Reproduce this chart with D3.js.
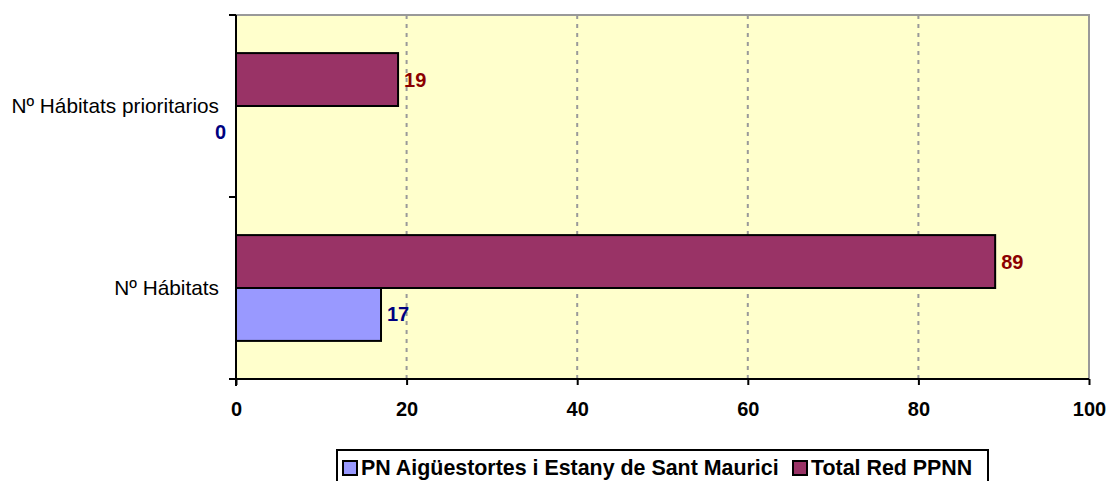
<!DOCTYPE html>
<html>
<head>
<meta charset="utf-8">
<script src="https://cdn.jsdelivr.net/npm/d3@7"></script>
<style>
  body { margin: 0; background: #fff; }
  svg { display: block; font-family: "Liberation Sans", Arial, sans-serif; }
</style>
</head>
<body>
<div id="chart"></div>
<script>
var categories = ["Nº Hábitats prioritarios", "Nº Hábitats"];
var seriesNames = ["Total Red PPNN", "PN Aigüestortes i Estany de Sant Maurici"];
var totalRed = [19, 89];
var pnAigues = [0, 17];
var xTicks = [0, 20, 40, 60, 80, 100];

var colors = {"Total Red PPNN": "#993366", "PN Aigüestortes i Estany de Sant Maurici": "#9999FF"};
var labelColors = {"Total Red PPNN": "#8B0000", "PN Aigüestortes i Estany de Sant Maurici": "#000080"};

var width = 1110, height = 481;
var plot = {left: 236, right: 1089, top: 15, bottom: 379};

var svg = d3.select("#chart").append("svg")
    .attr("width", width)
    .attr("height", height);

var x = d3.scaleLinear()
    .domain([0, 100])
    .range([plot.left, plot.right]);

var y = d3.scaleBand()
    .domain(categories)
    .range([plot.top, plot.bottom]);

var inner = d3.scaleBand()
    .domain(seriesNames)
    .range([0, y.bandwidth()])
    .paddingOuter(0.72)
    .paddingInner(0);

// plot background
svg.append("rect")
    .attr("x", plot.left)
    .attr("y", plot.top)
    .attr("width", plot.right - plot.left)
    .attr("height", plot.bottom - plot.top)
    .style("fill", "#FFFFCC");

// top and right border
svg.append("path")
    .attr("d", "M" + plot.left + "," + plot.top + "H" + plot.right + "V" + plot.bottom)
    .style("fill", "none")
    .style("stroke", "#999")
    .style("stroke-width", 2);

// vertical gridlines
svg.append("g").selectAll("line")
    .data(xTicks.filter(function(d) { return d > 0 && d < 100; }))
    .enter().append("line")
    .attr("x1", function(d) { return x(d); })
    .attr("x2", function(d) { return x(d); })
    .attr("y1", plot.top)
    .attr("y2", plot.bottom)
    .style("stroke", "#999")
    .style("stroke-width", 2)
    .style("stroke-dasharray", "4,5");

var rows = categories.map(function(c, i) {
  return {cat: c, values: [
    {name: seriesNames[0], value: totalRed[i]},
    {name: seriesNames[1], value: pnAigues[i]}
  ]};
});

var groups = svg.selectAll(".cat")
    .data(rows)
    .enter().append("g")
    .attr("class", "cat")
    .attr("transform", function(d) { return "translate(0," + y(d.cat) + ")"; });

groups.selectAll("rect")
    .data(function(d) { return d.values.filter(function(v) { return v.value > 0; }); })
    .enter().append("rect")
    .attr("x", x(0))
    .attr("y", function(d) { return inner(d.name); })
    .attr("width", function(d) { return x(d.value) - x(0); })
    .attr("height", inner.bandwidth())
    .style("fill", function(d) { return colors[d.name]; })
    .style("stroke", "#000")
    .style("stroke-width", 2);

groups.selectAll("text.val")
    .data(function(d) { return d.values; })
    .enter().append("text")
    .attr("class", "val")
    .attr("x", function(d) { return d.value > 0 ? x(d.value) + 6 : x(0) - 10; })
    .attr("y", function(d) { return inner(d.name) + inner.bandwidth() / 2; })
    .attr("dy", "0.35em")
    .attr("text-anchor", function(d) { return d.value > 0 ? "start" : "end"; })
    .style("font-size", "20px")
    .style("font-weight", "bold")
    .style("fill", function(d) { return labelColors[d.name]; })
    .text(function(d) { return d.value; });

// axes
var xAxis = d3.axisBottom(x).tickValues(xTicks).tickSize(6).tickPadding(17);
var gx = svg.append("g")
    .attr("transform", "translate(0," + plot.bottom + ")")
    .call(xAxis);
gx.select(".domain").attr("d", "M" + (plot.left - 7) + ",0H" + plot.right).style("stroke-width", 2);
gx.selectAll(".tick line").style("stroke-width", 2);
gx.selectAll(".tick text")
    .style("font-size", "20px")
    .style("font-weight", "bold")
    .style("font-family", "Liberation Sans, Arial, sans-serif")
    .style("fill", "#000");

var gy = svg.append("g")
    .attr("transform", "translate(" + plot.left + ",0)");
gy.append("line")
    .attr("x1", 0).attr("x2", 0)
    .attr("y1", plot.top).attr("y2", plot.bottom + 7)
    .style("stroke", "#000")
    .style("stroke-width", 2);
gy.selectAll(".yt")
    .data([plot.top, y(categories[1]), plot.bottom])
    .enter().append("line")
    .attr("x1", -7).attr("x2", 0)
    .attr("y1", function(d) { return d; })
    .attr("y2", function(d) { return d; })
    .style("stroke", "#000")
    .style("stroke-width", 2);
gy.selectAll(".ylab")
    .data(categories)
    .enter().append("text")
    .attr("x", -17)
    .attr("y", function(d) { return y(d) + y.bandwidth() / 2; })
    .attr("dy", "0.35em")
    .attr("text-anchor", "end")
    .style("font-size", "20.8px")
    .style("fill", "#000")
    .text(function(d) { return d; });

// legend
var legend = svg.append("g");
legend.append("rect")
    .attr("x", 337).attr("y", 450)
    .attr("width", 651).attr("height", 40)
    .style("fill", "#fff")
    .style("stroke", "#000")
    .style("stroke-width", 2);
var legendItems = [
  {name: seriesNames[1], x: 343},
  {name: seriesNames[0], x: 793}
];
legendItems.forEach(function(it) {
  legend.append("rect")
      .attr("x", it.x).attr("y", 461)
      .attr("width", 14).attr("height", 14)
      .style("fill", colors[it.name])
      .style("stroke", "#000")
      .style("stroke-width", 2);
  legend.append("text")
      .attr("x", it.x + 18).attr("y", 475)
      .style("font-size", "21.4px")
      .style("font-weight", "bold")
      .text(it.name);
});
</script>
</body>
</html>
